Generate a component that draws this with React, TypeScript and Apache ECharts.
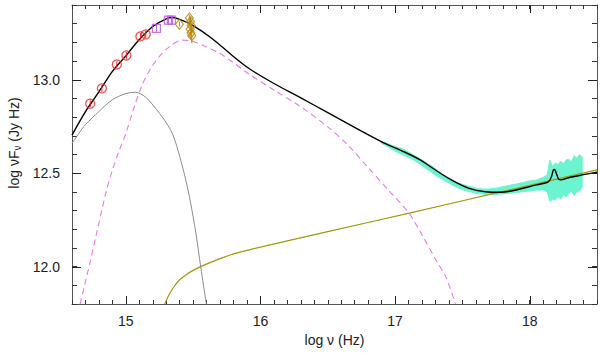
import React, { useEffect, useRef } from "react";
import * as echarts from "echarts";

// ---- axis ranges / ticks ----
const X_MIN = 14.6;
const X_MAX = 18.5;
const Y_MIN = 11.8;
const Y_MAX = 13.4;
const xMajorTicks = [15, 16, 17, 18];
const yMajorTicks = [12, 12.5, 13];

// ---- total model (black) ----
const modelX = [14.6, 14.7, 14.8, 14.9, 15.0, 15.1, 15.2, 15.3, 15.35, 15.4, 15.5, 15.64, 15.79, 15.915, 16.1, 16.3, 16.5, 16.75, 16.9, 17.05, 17.18, 17.3, 17.42, 17.55, 17.67, 17.79, 17.9, 18.02, 18.1, 18.14, 18.16, 18.175, 18.185, 18.2, 18.215, 18.23, 18.3, 18.4, 18.5];
const modelY = [12.704, 12.83, 12.935, 13.045, 13.128, 13.215, 13.285, 13.326, 13.333, 13.323, 13.29, 13.221, 13.13, 13.06, 12.98, 12.903, 12.824, 12.725, 12.668, 12.62, 12.574, 12.517, 12.463, 12.419, 12.401, 12.398, 12.41, 12.432, 12.445, 12.455, 12.478, 12.515, 12.52, 12.495, 12.468, 12.464, 12.478, 12.492, 12.505];

// ---- grey component ----
const greyX = [14.6, 14.65, 14.7, 14.8, 14.9, 15.0, 15.07, 15.15, 15.25, 15.3, 15.35, 15.4, 15.445, 15.48, 15.52, 15.556, 15.6];
const greyY = [12.66, 12.712, 12.76, 12.83, 12.893, 12.926, 12.933, 12.905, 12.82, 12.77, 12.705, 12.59, 12.464, 12.345, 12.18, 12.0, 11.79];

// ---- magenta dashed component ----
const magX = [14.66, 14.72, 14.777, 14.85, 14.9, 14.95, 15.0, 15.06, 15.12, 15.18, 15.25, 15.33, 15.42, 15.5, 15.6, 15.7, 15.79, 15.915, 16.1, 16.3, 16.5, 16.65, 16.8, 16.95, 17.1, 17.2, 17.3, 17.38, 17.448];
const magY = [11.8, 11.98, 12.16, 12.39, 12.517, 12.62, 12.713, 12.85, 12.97, 13.055, 13.125, 13.18, 13.212, 13.205, 13.175, 13.14, 13.096, 13.03, 12.945, 12.855, 12.748, 12.65, 12.53, 12.41, 12.29, 12.17, 12.04, 11.94, 11.8];

// ---- olive component ----
const oliveX = [15.289, 15.32, 15.36, 15.4, 15.45, 15.5, 15.556, 15.62, 15.7, 15.8, 15.915, 16.5, 17.114, 17.745, 18.5];
const oliveY = [11.8, 11.848, 11.895, 11.93, 11.958, 11.98, 12.0, 12.02, 12.043, 12.068, 12.09, 12.187, 12.288, 12.393, 12.518];

// ---- X-ray spectrum band (cyan) ----
const bandX = [16.9, 16.95, 17.0, 17.05, 17.1, 17.15, 17.2, 17.25, 17.3, 17.35, 17.4, 17.45, 17.5, 17.55, 17.6, 17.65, 17.7, 17.75, 17.8, 17.85, 17.9, 17.95, 18.0, 18.05, 18.1, 18.13, 18.15, 18.17, 18.19, 18.21, 18.23, 18.25, 18.27, 18.29, 18.31, 18.33, 18.35, 18.37, 18.39];
const bandLo = [12.66, 12.64, 12.618, 12.602, 12.584, 12.565, 12.542, 12.515, 12.49, 12.467, 12.447, 12.427, 12.412, 12.402, 12.393, 12.388, 12.386, 12.386, 12.389, 12.392, 12.396, 12.402, 12.405, 12.41, 12.41, 12.4, 12.35, 12.36, 12.355, 12.375, 12.362, 12.385, 12.372, 12.39, 12.405, 12.38, 12.4, 12.405, 12.425];
const bandHi = [12.672, 12.657, 12.642, 12.632, 12.614, 12.592, 12.57, 12.548, 12.525, 12.495, 12.475, 12.455, 12.44, 12.43, 12.42, 12.415, 12.415, 12.42, 12.428, 12.435, 12.442, 12.45, 12.458, 12.463, 12.478, 12.49, 12.57, 12.535, 12.555, 12.545, 12.565, 12.55, 12.57, 12.575, 12.56, 12.595, 12.58, 12.6, 12.585];

// ---- photometric points ----
const redX = [14.735, 14.822, 14.933, 15.004, 15.108, 15.148];
const redY = [12.872, 12.954, 13.082, 13.13, 13.232, 13.243];
const redErr = [0.018, 0.018, 0.018, 0.018, 0.018, 0.018];

const purpleX = [15.227, 15.316, 15.338];
const purpleY = [13.275, 13.319, 13.319];
const purpleErr = [0.018, 0.018, 0.018];

const goldX = [15.398, 15.472, 15.48, 15.486, 15.478, 15.484, 15.49];
const goldY = [13.297, 13.33, 13.31, 13.29, 13.27, 13.25, 13.235];
const goldLo = [13.285, 13.3, 13.28, 13.26, 13.235, 13.215, 13.195];
const goldHi = [13.31, 13.346, 13.335, 13.315, 13.3, 13.28, 13.27];

const FONT = "Liberation Sans";
const AXIS_COLOR = "#222";

function pairs(xs: number[], ys: number[]) {
  return xs.map((x, i) => [x, ys[i]]);
}

function lineSeries(xs: number[], ys: number[], color: string, width: number, dash: any, z: number) {
  return {
    type: "line",
    data: pairs(xs, ys),
    showSymbol: false,
    symbol: "none",
    smooth: 0.3,
    lineStyle: { color, width, type: dash },
    z,
    silent: true,
  };
}

function errorSeries(xs: number[], lo: number[], hi: number[], color: string) {
  return {
    type: "custom",
    data: xs.map((x, i) => [x, lo[i], hi[i]]),
    encode: { x: 0, y: [1, 2] },
    z: 6,
    silent: true,
    renderItem: (params: any, api: any) => {
      const x = api.value(0);
      const p1 = api.coord([x, api.value(1)]);
      const p2 = api.coord([x, api.value(2)]);
      return {
        type: "polyline",
        shape: { points: [p1, p2] },
        style: { stroke: color, lineWidth: 1, fill: "none" },
      };
    },
  };
}

const bandSeries = {
  type: "custom",
  data: bandX.map((x, i) => [x, bandLo[i], bandHi[i]]),
  encode: { x: 0, y: [1, 2] },
  z: 1,
  silent: true,
  renderItem: (params: any, api: any) => {
    if (params.dataIndex !== 0) return null;
    const upper = bandX.map((x, i) => api.coord([x, bandHi[i]]));
    const lower = bandX.map((x, i) => api.coord([x, bandLo[i]])).reverse();
    return {
      type: "polygon",
      shape: { points: upper.concat(lower) },
      style: { fill: "#6cf3cf", stroke: "#6cf3cf", lineWidth: 1 },
    };
  },
};

const titleGraphic = {
  id: "ytitle",
  type: "text",
  x: 14,
  y: 143,
  rotation: Math.PI / 2,
  silent: true,
  style: {
    text: "{a|log νF}{s|ν}{a| (Jy Hz)}",
    align: "center",
    verticalAlign: "middle",
    fill: AXIS_COLOR,
    rich: {
      a: { fontFamily: FONT, fontSize: 14, fill: AXIS_COLOR },
      s: { fontFamily: FONT, fontSize: 10, fill: AXIS_COLOR, padding: [6, 0, 0, 0] },
    },
  },
};

function minorXAxis(position: "bottom" | "top", withLabels: boolean) {
  const a: any = {
    type: "value",
    position,
    min: X_MIN,
    max: X_MAX,
    interval: 0.1,
    splitLine: { show: false },
    axisLine: { show: true, onZero: false },
    axisTick: { show: true, inside: true, length: 4, lineStyle: { color: "#333" } },
    axisLabel: { show: false },
  };
  if (withLabels) {
    a.axisLabel = {
      show: true,
      margin: 10,
      fontFamily: FONT,
      fontSize: 14,
      color: AXIS_COLOR,
      formatter: (v: number) => (Math.abs(v - Math.round(v)) < 1e-6 ? String(Math.round(v)) : ""),
    };
    a.name = "log ν (Hz)";
    a.nameLocation = "middle";
    a.nameGap = 29;
    a.nameTextStyle = { fontFamily: FONT, fontSize: 14, color: AXIS_COLOR };
  }
  return a;
}

function minorYAxis(position: "left" | "right", withLabels: boolean) {
  const a: any = {
    type: "value",
    position,
    min: Y_MIN,
    max: Y_MAX,
    interval: 0.1,
    splitLine: { show: false },
    axisLine: { show: true, onZero: false },
    axisTick: { show: true, inside: true, length: 5, lineStyle: { color: "#333" } },
    axisLabel: { show: false },
  };
  if (withLabels) {
    a.axisLabel = {
      show: true,
      margin: 12,
      fontFamily: FONT,
      fontSize: 14,
      color: AXIS_COLOR,
      formatter: (v: number) => (Math.abs(v * 2 - Math.round(v * 2)) < 1e-6 ? v.toFixed(1) : ""),
    };
  }
  return a;
}

export default function App() {
  const ref = useRef<HTMLDivElement>(null);

  useEffect(() => {
    if (!ref.current) return;
    const chart = echarts.init(ref.current, undefined, { renderer: "svg" });

    const option: any = {
      animation: false,
      grid: { left: 72, right: 2, top: 5, bottom: 49 },
      xAxis: [minorXAxis("bottom", true), minorXAxis("top", false)],
      yAxis: [minorYAxis("left", true), minorYAxis("right", false)],
      graphic: [titleGraphic],
      series: [
        bandSeries,
        lineSeries(oliveX, oliveY, "#9e9a0a", 1.2, "solid", 2),
        lineSeries(greyX, greyY, "#8c8c8c", 1, "solid", 2),
        lineSeries(magX, magY, "#e57ae5", 1.1, [6, 4], 2),
        lineSeries(modelX, modelY, "#000000", 1.4, "solid", 3),
        errorSeries(redX, redX.map((_, i) => redY[i] - redErr[i]), redX.map((_, i) => redY[i] + redErr[i]), "#e8262b"),
        errorSeries(purpleX, purpleX.map((_, i) => purpleY[i] - purpleErr[i]), purpleX.map((_, i) => purpleY[i] + purpleErr[i]), "#b455e0"),
        errorSeries(goldX, goldLo, goldHi, "#b8860b"),
        {
          type: "scatter",
          data: pairs(redX, redY),
          symbol: "circle",
          symbolSize: 9,
          itemStyle: { color: "rgba(0,0,0,0)", borderColor: "#e8262b", borderWidth: 1.3 },
          silent: true,
          z: 7,
        },
        {
          type: "scatter",
          data: pairs(purpleX, purpleY),
          symbol: "rect",
          symbolSize: 8,
          itemStyle: { color: "rgba(0,0,0,0)", borderColor: "#b455e0", borderWidth: 1.2 },
          silent: true,
          z: 7,
        },
        {
          type: "scatter",
          data: pairs(goldX, goldY),
          symbol: "diamond",
          symbolSize: [8, 10],
          itemStyle: { color: "rgba(0,0,0,0)", borderColor: "#b8860b", borderWidth: 1.2 },
          silent: true,
          z: 7,
        },
      ],
    };

    chart.setOption(option);

    // longer major ticks on all four sides, positioned through the axes' own scales
    const toPx = (x: number, y: number) =>
      chart.convertToPixel({ xAxisIndex: 0, yAxisIndex: 0 } as any, [x, y]) as unknown as number[];
    const tickEls: any[] = [];
    xMajorTicks.forEach((v, i) => {
      const b = toPx(v, Y_MIN);
      const t = toPx(v, Y_MAX);
      if (!b || !t) return;
      const x = Math.round(b[0]) + 0.5;
      tickEls.push({ id: "xb" + i, type: "line", silent: true, z: 50, shape: { x1: x, y1: b[1], x2: x, y2: b[1] - 8 }, style: { stroke: AXIS_COLOR, lineWidth: 1 } });
      tickEls.push({ id: "xt" + i, type: "line", silent: true, z: 50, shape: { x1: x, y1: t[1], x2: x, y2: t[1] + 8 }, style: { stroke: AXIS_COLOR, lineWidth: 1 } });
    });
    yMajorTicks.forEach((v, i) => {
      const l = toPx(X_MIN, v);
      const r = toPx(X_MAX, v);
      if (!l || !r) return;
      const y = Math.round(l[1]) + 0.5;
      tickEls.push({ id: "yl" + i, type: "line", silent: true, z: 50, shape: { x1: l[0], y1: y, x2: l[0] + 9, y2: y }, style: { stroke: AXIS_COLOR, lineWidth: 1 } });
      tickEls.push({ id: "yr" + i, type: "line", silent: true, z: 50, shape: { x1: r[0], y1: y, x2: r[0] - 9, y2: y }, style: { stroke: AXIS_COLOR, lineWidth: 1 } });
    });
    chart.setOption({ graphic: [titleGraphic, ...tickEls] });

    return () => {
      chart.dispose();
    };
  }, []);

  return (
    <div
      ref={ref}
      style={{ position: "fixed", left: 0, top: 0, width: 600, height: 353, background: "#fff" }}
    />
  );
}
